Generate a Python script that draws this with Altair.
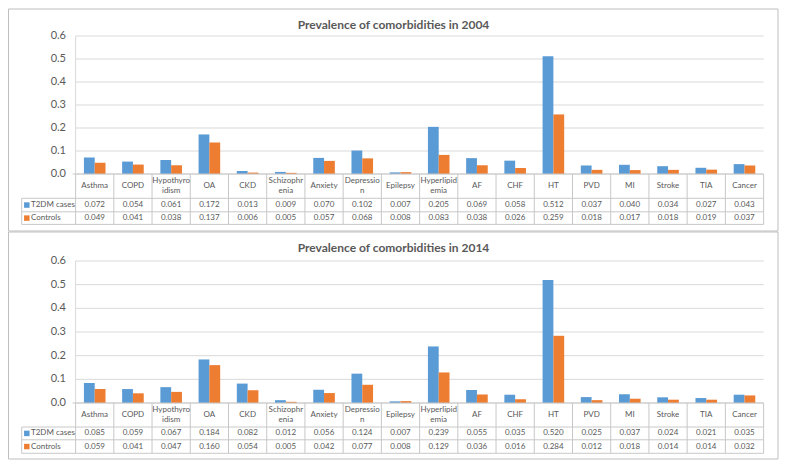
import altair as alt
import pandas as pd

categories = ["Asthma", "COPD", "Hypothyroidism", "OA", "CKD", "Schizophrenia", "Anxiety",
              "Depression", "Epilepsy", "Hyperlipidemia", "AF", "CHF", "HT", "PVD", "MI",
              "Stroke", "TIA", "Cancer"]
category_labels = ["Asthma", "COPD", "Hypothyro\nidism", "OA", "CKD", "Schizophr\nenia", "Anxiety",
                   "Depressio\nn", "Epilepsy", "Hyperlipid\nemia", "AF", "CHF", "HT", "PVD", "MI",
                   "Stroke", "TIA", "Cancer"]
series_names = ["T2DM cases", "Controls"]
series_colors = ["#5B9BD5", "#ED7D31"]

t2dm_2004 = [0.072, 0.054, 0.061, 0.172, 0.013, 0.009, 0.070, 0.102, 0.007, 0.205, 0.069, 0.058,
             0.512, 0.037, 0.040, 0.034, 0.027, 0.043]
controls_2004 = [0.049, 0.041, 0.038, 0.137, 0.006, 0.005, 0.057, 0.068, 0.008, 0.083, 0.038, 0.026,
                 0.259, 0.018, 0.017, 0.018, 0.019, 0.037]
t2dm_2014 = [0.085, 0.059, 0.067, 0.184, 0.082, 0.012, 0.056, 0.124, 0.007, 0.239, 0.055, 0.035,
             0.520, 0.025, 0.037, 0.024, 0.021, 0.035]
controls_2014 = [0.059, 0.041, 0.047, 0.160, 0.054, 0.005, 0.042, 0.077, 0.008, 0.129, 0.036, 0.016,
                 0.284, 0.012, 0.018, 0.014, 0.014, 0.032]
y_ticks = [0.0, 0.1, 0.2, 0.3, 0.4, 0.5, 0.6]
titles = ["Prevalence of comorbidities in 2004", "Prevalence of comorbidities in 2014"]

# ---- layout (pixels) ----
W, H = 771, 453
PLOT_L, PLOT_R = 67.6, 755.6
TABLE_L = 13.7
FONT = "Lato"
TXT = "#595959"
GRID = "#D9D9D9"
LINE = "#C8C8C8"
TFS = 8
LH = 10.5

panels = [
    dict(title=titles[0], t2dm=t2dm_2004, ctrl=controls_2004, border=(1, 223), title_y=16.5,
         y0=166, y6=28, rows=(166, 190.3, 203.8, 216.4)),
    dict(title=titles[1], t2dm=t2dm_2014, ctrl=controls_2014, border=(224, 451), title_y=239.5,
         y0=395, y6=253, rows=(395, 419, 431.8, 445.3)),
]

one = pd.DataFrame({"k": [0]})
cat_df = pd.DataFrame({"cat": categories, "label": category_labels})
cat_one = cat_df[~cat_df["label"].str.contains("\n")]
cat_two = cat_df[cat_df["label"].str.contains("\n")]
tick_df = pd.DataFrame({"tick": y_ticks})
ser_df = pd.DataFrame({"series": series_names})

xs = alt.Scale(domain=categories, range=[PLOT_L, PLOT_R], paddingInner=0, paddingOuter=0)
cs = alt.Scale(domain=series_names, range=series_colors)

layers = []
for p in panels:
    df = pd.DataFrame({
        "cat": categories * 2,
        "series": ["T2DM cases"] * len(categories) + ["Controls"] * len(categories),
        "value": p["t2dm"] + p["ctrl"],
    })
    ys = alt.Scale(domain=[0, 0.6], range=[p["y0"], p["y6"]], nice=False, zero=True)
    r0, r1, r2, r3 = p["rows"]
    row_scale = alt.Scale(domain=series_names, range=[(r1 + r2) / 2, (r2 + r3) / 2], padding=0)
    cy = (r0 + r1) / 2

    # panel border
    layers.append(alt.Chart(one).mark_rect(filled=False, stroke="#BFBFBF", strokeWidth=1).encode(
        x=alt.value(0.5), x2=alt.value(770), y=alt.value(p["border"][0]), y2=alt.value(p["border"][1])))
    # title
    layers.append(alt.Chart(one).mark_text(font=FONT, fontSize=12, fontWeight="bold", color=TXT,
                                           align="center", baseline="middle").encode(
        x=alt.value(W / 2), y=alt.value(p["title_y"]), text=alt.value(p["title"])))
    # gridlines
    layers.append(alt.Chart(tick_df).mark_rule(color=GRID, strokeWidth=1).encode(
        y=alt.Y("tick:Q", scale=ys, axis=None), x=alt.value(PLOT_L), x2=alt.value(PLOT_R)))
    # vertical axis line
    layers.append(alt.Chart(one).mark_rule(color=GRID, strokeWidth=1).encode(
        x=alt.value(PLOT_L), y=alt.value(p["y6"]), y2=alt.value(p["y0"])))
    # y labels
    layers.append(alt.Chart(tick_df).mark_text(font=FONT, fontSize=11, color=TXT, align="right",
                                               baseline="middle").encode(
        y=alt.Y("tick:Q", scale=ys, axis=None), x=alt.value(58),
        text=alt.Text("tick:Q", format=".1f")))
    # bars
    layers.append(alt.Chart(df).mark_bar().encode(
        x=alt.X("cat:N", scale=xs, axis=None, sort=categories),
        xOffset=alt.XOffset("series:N", scale=alt.Scale(domain=series_names, paddingInner=0,
                                                         paddingOuter=0.77)),
        y=alt.Y("value:Q", scale=ys, axis=None),
        color=alt.Color("series:N", scale=cs, legend=None)))
    # table horizontal lines
    layers.append(alt.Chart(one).mark_rule(color=LINE, strokeWidth=1).encode(
        x=alt.value(PLOT_L - 3), x2=alt.value(PLOT_R), y=alt.value(r0)))
    for ry in (r1, r2, r3):
        layers.append(alt.Chart(one).mark_rule(color=LINE, strokeWidth=1).encode(
            x=alt.value(TABLE_L), x2=alt.value(PLOT_R), y=alt.value(ry)))
    # table vertical lines
    layers.append(alt.Chart(cat_df).mark_rule(color=LINE, strokeWidth=1).encode(
        x=alt.X("cat:N", scale=xs, axis=None, bandPosition=0),
        y=alt.value(r0), y2=alt.value(r3)))
    layers.append(alt.Chart(one).mark_rule(color=LINE, strokeWidth=1).encode(
        x=alt.value(PLOT_R), y=alt.value(r0), y2=alt.value(r3)))
    layers.append(alt.Chart(one).mark_rule(color=LINE, strokeWidth=1).encode(
        x=alt.value(TABLE_L), y=alt.value(r1), y2=alt.value(r3)))
    # category labels (single line, centred)
    layers.append(alt.Chart(cat_one).mark_text(font=FONT, fontSize=TFS, color=TXT, align="center",
                                               baseline="middle").encode(
        x=alt.X("cat:N", scale=xs, axis=None), y=alt.value(cy), text="label:N"))
    # category labels (two lines, block centred)
    layers.append(alt.Chart(cat_two).mark_text(font=FONT, fontSize=TFS, color=TXT, align="center",
                                               baseline="middle", lineBreak="\n", lineHeight=LH).encode(
        x=alt.X("cat:N", scale=xs, axis=None), y=alt.value(cy - LH / 2), text="label:N"))
    # values
    layers.append(alt.Chart(df).mark_text(font=FONT, fontSize=TFS, color=TXT, align="center",
                                          baseline="middle").encode(
        x=alt.X("cat:N", scale=xs, axis=None),
        y=alt.Y("series:N", scale=row_scale, axis=None),
        text=alt.Text("value:Q", format=".3f")))
    # legend keys in table
    layers.append(alt.Chart(ser_df).mark_square(size=30, opacity=1).encode(
        x=alt.value(18.8), y=alt.Y("series:N", scale=row_scale, axis=None),
        color=alt.Color("series:N", scale=cs, legend=None)))
    layers.append(alt.Chart(ser_df).mark_text(font=FONT, fontSize=TFS, color=TXT, align="left",
                                              baseline="middle").encode(
        x=alt.value(23), y=alt.Y("series:N", scale=row_scale, axis=None), text="series:N"))

chart = alt.layer(*layers).resolve_scale(y="independent").properties(
    width=W, height=H, autosize=alt.AutoSizeParams(type="none"), padding=0
).configure_view(stroke=None)

chart.save("out.html", embed_options={"renderer": "svg", "actions": False})
